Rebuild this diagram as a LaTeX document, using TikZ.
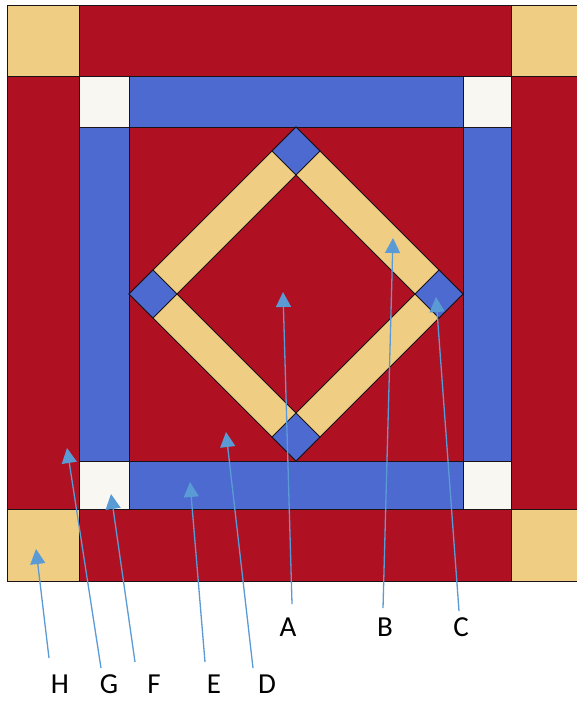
\documentclass[tikz,border=0pt]{standalone}
\usepackage{fontspec}
\setmainfont{Carlito}
\usetikzlibrary{arrows.meta}
\definecolor{qred}{RGB}{175,16,34}
\definecolor{qtan}{RGB}{239,206,132}
\definecolor{qblue}{RGB}{76,106,208}
\definecolor{qwhite}{RGB}{249,247,241}
\definecolor{qline}{RGB}{25,18,22}
\definecolor{arrowblue}{RGB}{91,155,213}
\begin{document}
\begin{tikzpicture}[x=1pt,y=-1pt,
  patch/.style={draw=qline,line width=0.9pt},
  redp/.style={patch,fill=qred},
  tanp/.style={patch,fill=qtan},
  bluep/.style={patch,fill=qblue},
  whitep/.style={patch,fill=qwhite},
  lbl/.style={font=\fontsize{29}{29}\selectfont,text=black,inner sep=0pt,anchor=base},
  pointer/.style={draw=arrowblue,line width=1.3pt,-{Triangle[width=15pt,length=15pt]}}]
\useasboundingbox (0,0) rectangle (577,701);
\fill[white] (0,0) rectangle (577,701);
% corners
\draw[tanp] (7,5) rectangle (79,76);
\draw[tanp] (511,5) rectangle (582,76);
\draw[tanp] (7,509) rectangle (79,581);
\draw[tanp] (511,509) rectangle (582,581);
% outer red border
\draw[redp] (79,5) rectangle (511,76);
\draw[redp] (79,509) rectangle (511,581);
\draw[redp] (7,76) rectangle (79,509);
\draw[redp] (511,76) rectangle (582,509);
% white squares
\draw[whitep] (79,76) rectangle (129,127);
\draw[whitep] (463,76) rectangle (511,127);
\draw[whitep] (79,461) rectangle (129,509);
\draw[whitep] (463,461) rectangle (511,509);
% blue strips
\draw[bluep] (129,76) rectangle (463,127);
\draw[bluep] (129,461) rectangle (463,509);
\draw[bluep] (79,127) rectangle (129,461);
\draw[bluep] (463,127) rectangle (511,461);
% inner red
\draw[redp] (129,127) rectangle (463,461);
% diamond
\begin{scope}[shift={(296,294)}]
\draw[tanp] (0,-167) -- (167,0) -- (0,167) -- (-167,0) -- cycle;
\draw[redp] (0,-119) -- (119,0) -- (0,119) -- (-119,0) -- cycle;
\draw[bluep] (0,-167) -- (24,-143) -- (0,-119) -- (-24,-143) -- cycle;
\draw[bluep] (0,167) -- (24,143) -- (0,119) -- (-24,143) -- cycle;
\draw[bluep] (-167,0) -- (-143,24) -- (-119,0) -- (-143,-24) -- cycle;
\draw[bluep] (167,0) -- (143,24) -- (119,0) -- (143,-24) -- cycle;
\end{scope}
% labels
\node[lbl] (A) at (288,636) {A};
\node[lbl] (B) at (385,636) {B};
\node[lbl] (C) at (461,636) {C};
\node[lbl] (D) at (267,693) {D};
\node[lbl] (E) at (214,693) {E};
\node[lbl] (F) at (154,693) {F};
\node[lbl] (G) at (109,693) {G};
\node[lbl] (H) at (60,693) {H};
% pointer ends
\coordinate (a0) at (292,604); \coordinate (a1) at (283,292);
\coordinate (b0) at (383,608); \coordinate (b1) at (393,238);
\coordinate (c0) at (459,611); \coordinate (c1) at (436,297);
\coordinate (d0) at (253,668); \coordinate (d1) at (226,432);
\coordinate (e0) at (205,662); \coordinate (e1) at (190,482);
\coordinate (f0) at (135,662); \coordinate (f1) at (111,494);
\coordinate (g0) at (101,668); \coordinate (g1) at (67,448);
\coordinate (h0) at (49,658); \coordinate (h1) at (36,549);
\foreach \p in {a,b,c,d,e,f,g,h} \draw[pointer] (\p0) -- (\p1);
\end{tikzpicture}
\end{document}
